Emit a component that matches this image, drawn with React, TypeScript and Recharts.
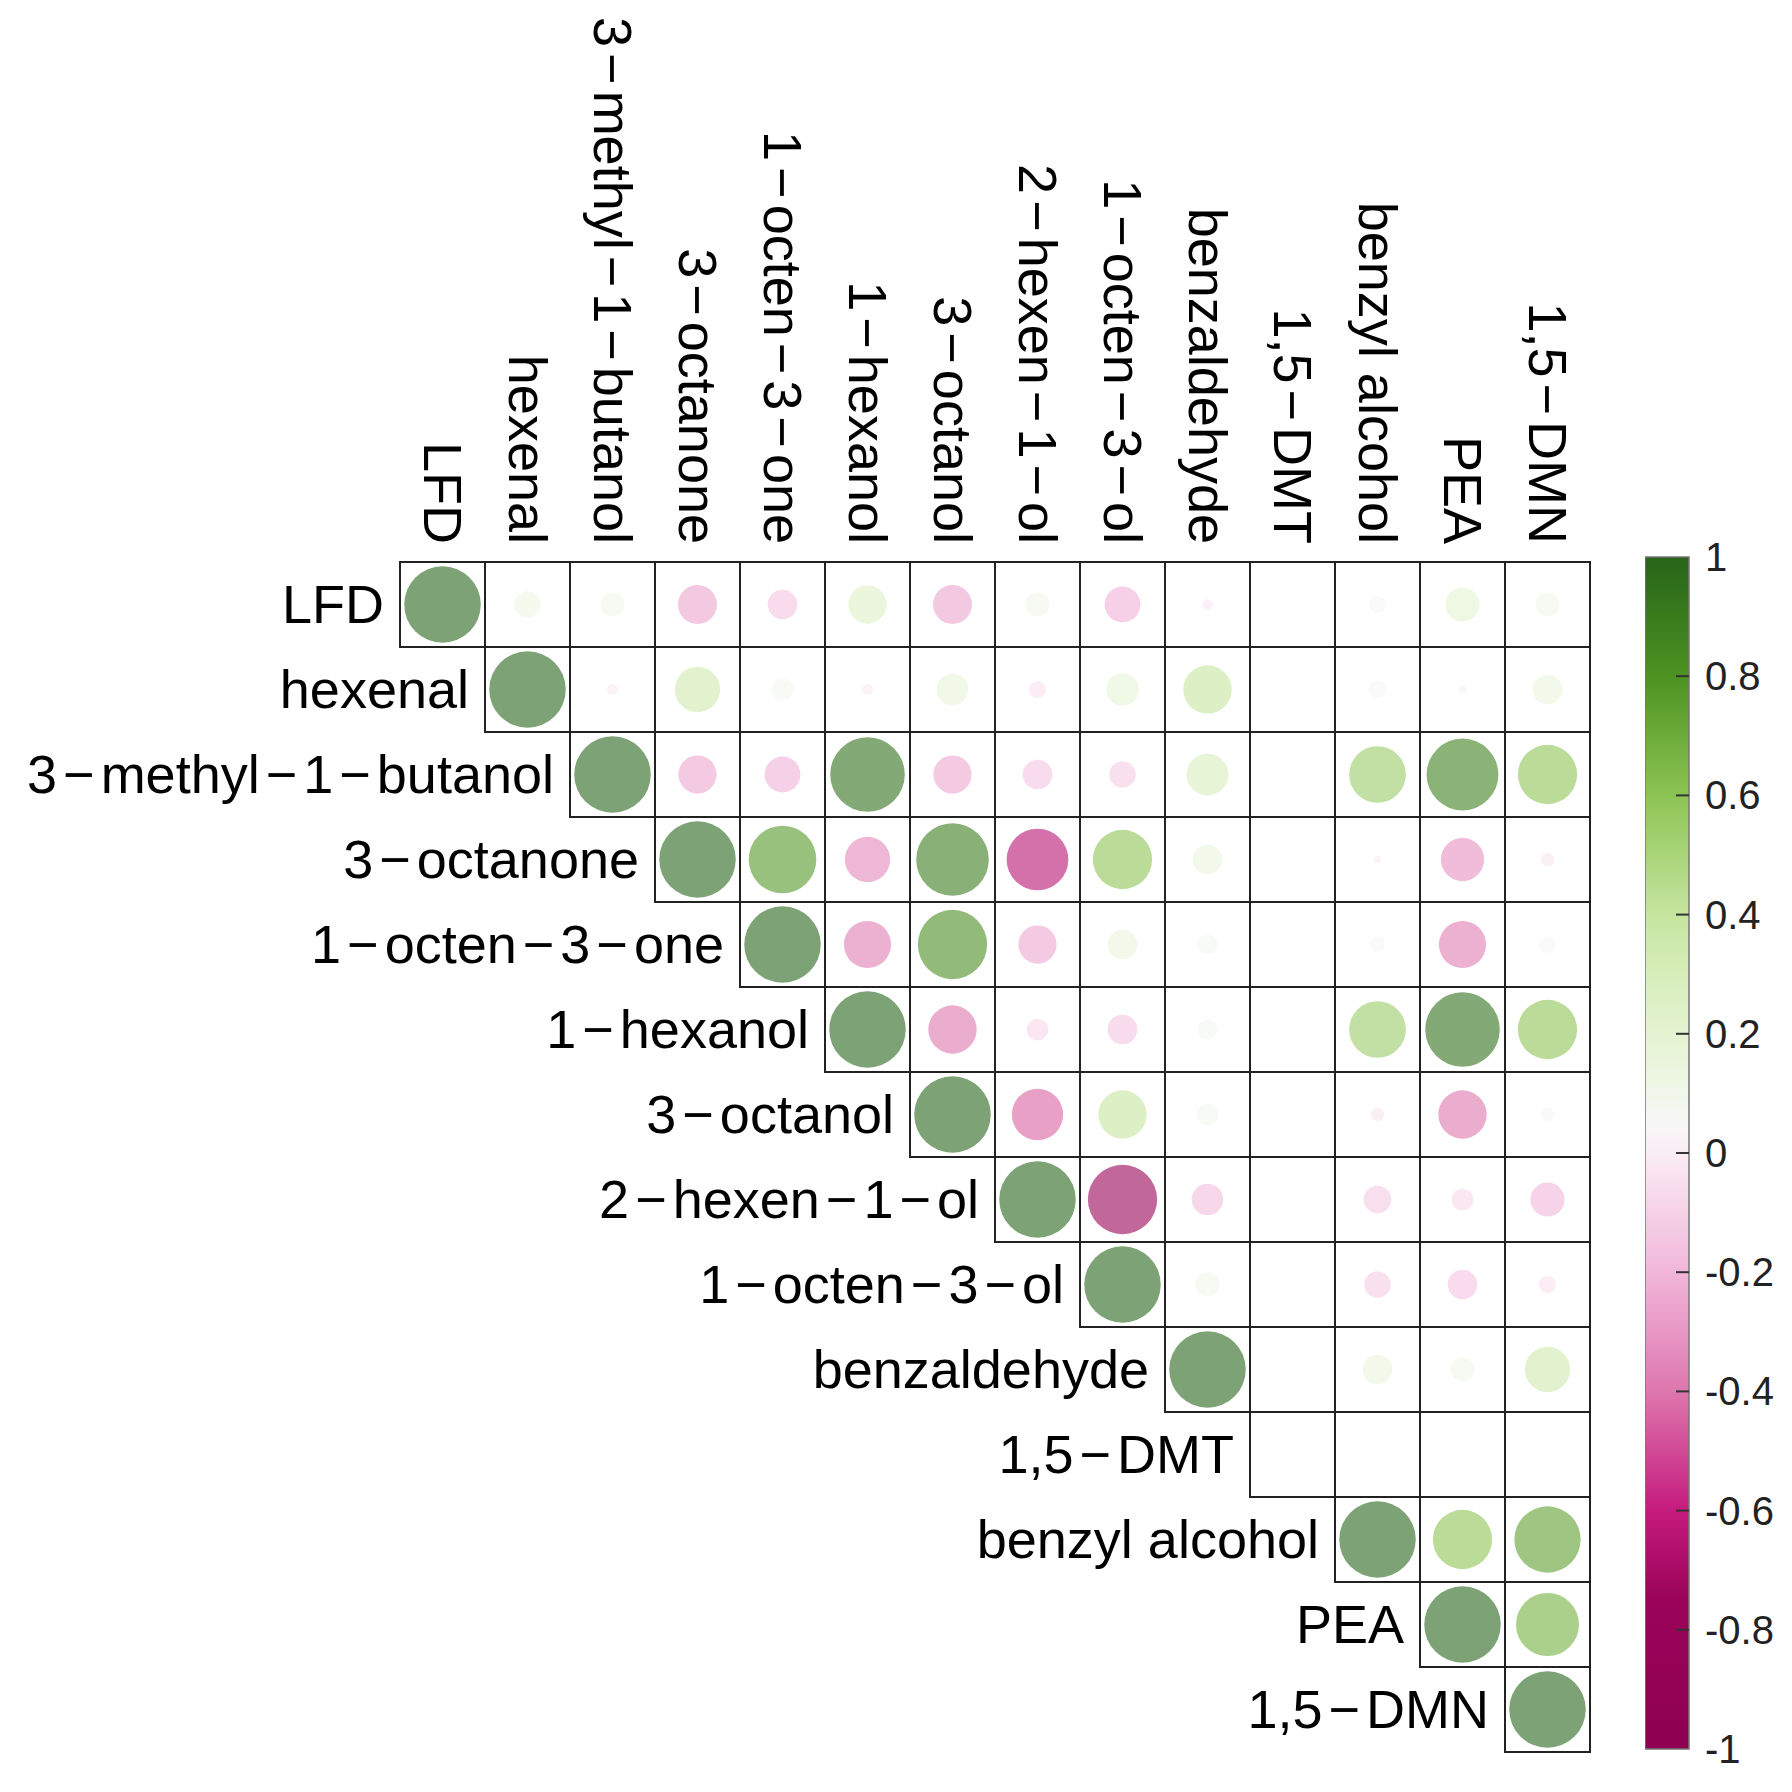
import React from "react";
import { ScatterChart, Scatter, XAxis, YAxis, BarChart, Bar } from "recharts";

// variable names (rows and columns share the same order)
const variables = [
  "LFD",
  "hexenal",
  "3-methyl-1-butanol",
  "3-octanone",
  "1-octen-3-one",
  "1-hexanol",
  "3-octanol",
  "2-hexen-1-ol",
  "1-octen-3-ol",
  "benzaldehyde",
  "1,5-DMT",
  "benzyl alcohol",
  "PEA",
  "1,5-DMN",
];

// upper triangle, each row starts at its diagonal; null = NA (no circle)
const rowLFD = [1, 0.12, 0.1, -0.26, -0.15, 0.25, -0.26, 0.1, -0.22, -0.02, null, 0.05, 0.2, 0.1];
const rowHexenal = [1, -0.02, 0.35, 0.08, -0.02, 0.17, -0.05, 0.18, 0.4, null, 0.05, 0.01, 0.15];
const rowMethylButanol = [1, -0.25, -0.22, 0.95, -0.25, -0.15, -0.12, 0.3, null, 0.55, 0.88, 0.6];
const rowOctanone = [1, 0.78, -0.35, 0.9, -0.65, 0.6, 0.15, null, -0.01, -0.32, -0.03];
const rowOctenOne = [1, -0.38, 0.82, -0.25, 0.15, 0.07, null, 0.04, -0.38, 0.05];
const rowHexanol = [1, -0.4, -0.08, -0.15, 0.07, null, 0.55, 0.95, 0.6];
const rowOctanol = [1, -0.45, 0.4, 0.08, null, -0.03, -0.4, 0.03];
const rowHexenOl = [1, -0.82, -0.17, null, -0.13, -0.08, -0.2];
const rowOctenOl = [1, 0.1, null, -0.12, -0.15, -0.05];
const rowBenzaldehyde = [1, null, 0.15, 0.1, 0.35];
const rowDMT = [null, null, null, null];
const rowBenzylAlcohol = [1, 0.6, 0.75];
const rowPEA = [1, 0.68];
const rowDMN = [1];

const rows = [
  rowLFD, rowHexenal, rowMethylButanol, rowOctanone, rowOctenOne, rowHexanol, rowOctanol,
  rowHexenOl, rowOctenOl, rowBenzaldehyde, rowDMT, rowBenzylAlcohol, rowPEA, rowDMN,
];

// colour bar ticks
const legendTicks = [1, 0.8, 0.6, 0.4, 0.2, 0, -0.2, -0.4, -0.6, -0.8, -1];

// PiYG-like ramp
const colorStops: [number, string][] = [
  [-1, "#8E0152"],
  [-0.75, "#9A0359"],
  [-0.6, "#C51B7D"],
  [-0.4, "#DE77AE"],
  [-0.2, "#F1B6DA"],
  [0, "#FAEDF4"],
  [0.05, "#F7F7F7"],
  [0.15, "#EAF5DC"],
  [0.3, "#D7EEBA"],
  [0.4, "#C5E59F"],
  [0.6, "#8CC453"],
  [0.8, "#4D9221"],
  [1, "#276419"],
];

const FONT = "'Liberation Sans', Arial, Helvetica, sans-serif";
const N = variables.length;
const PLOT_LEFT = 400;
const PLOT_TOP = 562;
const PLOT_SIZE = 1190;
const CELL = PLOT_SIZE / N;
const DASH_GAP = 6;

const hex = (h: string) => [1, 3, 5].map((i) => parseInt(h.slice(i, i + 2), 16));

function colorFor(v: number) {
  for (let i = 1; i < colorStops.length; i++) {
    const [v1, c1] = colorStops[i];
    const [v0, c0] = colorStops[i - 1];
    if (v <= v1) {
      const t = (v - v0) / (v1 - v0);
      const a = hex(c0);
      const b = hex(c1);
      const c = a.map((x, k) => Math.round(x + (b[k] - x) * t));
      return `rgb(${c[0]},${c[1]},${c[2]})`;
    }
  }
  return colorStops[colorStops.length - 1][1];
}

// R draws the hyphens as spaced minus signs
const nameSpans = (s: string) =>
  s.split("-").flatMap((part, k) =>
    k === 0
      ? [<tspan key={`p${k}`}>{part}</tspan>]
      : [
          <tspan key={`m${k}`} dx={DASH_GAP}>{"\u2212"}</tspan>,
          <tspan key={`p${k}`} dx={DASH_GAP}>{part}</tspan>,
        ]
  );

const cells = rows.flatMap((row, i) =>
  row.map((v, k) => ({ x: i + k + 0.5, y: i + 0.5, r: v }))
);
const circles = cells.filter((c) => c.r !== null);
const axisTicks = variables.map((_, i) => i + 0.5);

const CellShape = (props: any) => (
  <rect
    x={props.cx - CELL / 2}
    y={props.cy - CELL / 2}
    width={CELL}
    height={CELL}
    fill="none"
    stroke="#222"
    strokeWidth={2}
  />
);

const CircleShape = (props: any) => {
  const v = props.payload.r as number;
  return (
    <circle
      cx={props.cx}
      cy={props.cy}
      r={0.45 * CELL * Math.sqrt(Math.abs(v))}
      fill={colorFor(v)}
      fillOpacity={0.6}
    />
  );
};

const ColumnTick = (props: any) => {
  const idx = Math.round(props.payload.value - 0.5);
  return (
    <text
      transform={`translate(${props.x},${PLOT_TOP - 18}) rotate(90)`}
      textAnchor="end"
      dy="0.35em"
      fontSize={54}
      fontFamily={FONT}
      fill="#000"
    >
      {nameSpans(variables[idx])}
    </text>
  );
};

const RowTick = (props: any) => {
  const idx = Math.round(props.payload.value - 0.5);
  return (
    <text
      x={PLOT_LEFT + idx * CELL - 16}
      y={props.y}
      textAnchor="end"
      dy="0.35em"
      fontSize={54}
      fontFamily={FONT}
      fill="#000"
    >
      {nameSpans(variables[idx])}
    </text>
  );
};

const CB_W = 44;
const LegendTick = (props: any) => {
  const v = props.payload.value as number;
  return (
    <g>
      {Math.abs(v) < 1 && (
        <line x1={CB_W - 13} x2={CB_W} y1={props.y} y2={props.y} stroke="#333" strokeWidth={2} />
      )}
      <text
        x={CB_W + 16}
        y={props.y}
        dy="0.35em"
        textAnchor="start"
        fontSize={40}
        fontFamily={FONT}
        fill="#222"
      >
        {String(v)}
      </text>
    </g>
  );
};

const legendData = [{ name: "scale", range: [-1, 1] }];

export default function App() {
  return (
    <div style={{ position: "absolute", left: 0, top: 0, width: 1792, height: 1792, background: "#fff" }}>
      <div style={{ position: "absolute", left: 0, top: 0 }}>
        <ScatterChart width={1792} height={1792} margin={{ top: 522, left: 360, right: 202, bottom: 40 }}>
          <XAxis
            type="number"
            dataKey="x"
            domain={[0, N]}
            ticks={axisTicks}
            orientation="top"
            height={40}
            axisLine={false}
            tickLine={false}
            interval={0}
            tick={<ColumnTick />}
          />
          <YAxis
            type="number"
            dataKey="y"
            domain={[0, N]}
            ticks={axisTicks}
            reversed
            width={40}
            axisLine={false}
            tickLine={false}
            interval={0}
            tick={<RowTick />}
          />
          <Scatter data={circles} shape={<CircleShape />} isAnimationActive={false} />
          <Scatter data={cells} shape={<CellShape />} isAnimationActive={false} />
        </ScatterChart>
      </div>
      <div style={{ position: "absolute", left: 1645, top: 500 }}>
        <BarChart
          width={147}
          height={1292}
          data={legendData}
          margin={{ top: 57, right: 0, left: 0, bottom: 43 }}
          barCategoryGap={0}
        >
          <defs>
            <linearGradient id="cbGrad" x1="0" y1="0" x2="0" y2="1">
              {colorStops
                .slice()
                .reverse()
                .map(([v, c]) => (
                  <stop key={v} offset={`${((1 - v) / 2) * 100}%`} stopColor={c} />
                ))}
            </linearGradient>
          </defs>
          <XAxis dataKey="name" hide height={0} />
          <YAxis
            orientation="right"
            type="number"
            domain={[-1, 1]}
            ticks={legendTicks}
            width={103}
            axisLine={false}
            tickLine={false}
            interval={0}
            tick={<LegendTick />}
          />
          <Bar dataKey="range" fill="url(#cbGrad)" stroke="#777" strokeWidth={1.5} isAnimationActive={false} />
        </BarChart>
      </div>
    </div>
  );
}
